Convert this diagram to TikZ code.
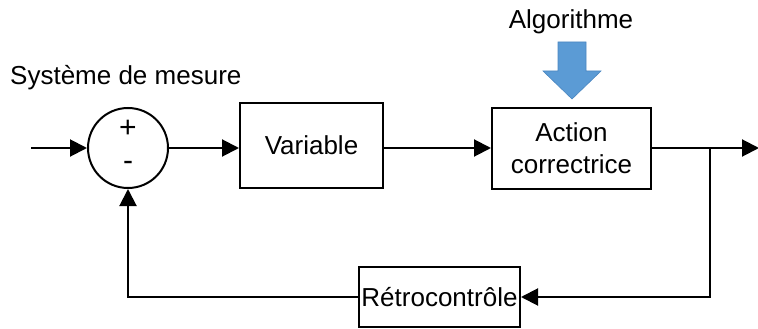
\documentclass[tikz,border=0pt]{standalone}
\usepackage{fontspec}
\setmainfont{Liberation Sans}
\usetikzlibrary{arrows.meta}
\definecolor{algoblue}{HTML}{5B9BD5}
\definecolor{algoedge}{HTML}{4A86C0}
\tikzset{
  blk/.style={draw, line width=2pt, inner sep=0pt, font=\fontsize{26}{30}\selectfont, align=center},
  conn/.style={line width=2pt, -{Triangle[length=17pt,width=17pt]}},
  lbl/.style={inner sep=0pt, font=\fontsize{26}{30}\selectfont},
  sign/.style={inner sep=0pt, font=\fontsize{30}{32}\selectfont}
}
\begin{document}
\begin{tikzpicture}[x=1pt,y=-1pt]
\useasboundingbox (0,0) rectangle (758,329);
% summing junction
\node[draw, circle, line width=2pt, minimum size=80pt, inner sep=0pt] (sum) at (128,148) {};
\node[sign] (plus) at (128,129) {+};
\node[sign] (minus) at (128,166) {-};
% blocks
\node[blk, minimum width=143pt, minimum height=85pt] (var) at (311.5,145.5) {Variable};
\node[blk, minimum width=159pt, minimum height=81pt] (act) at (571.5,148) {Action\\[2pt]correctrice};
\node[blk, minimum width=161pt, minimum height=60pt] (retro) at (439.5,297) {Rétrocontrôle};
% labels
\node[lbl, anchor=west] (mesure) at (10,78) {Système de mesure};
\node[lbl] (algo) at (571,22) {Algorithme};
% blue arrow
\draw[algoedge, fill=algoblue, line width=0.6pt]
  (558,42) -- (586,42) -- (586,71) -- (601,71) -- (572,99) -- (543,71) -- (558,71) -- cycle;
% coordinates
\coordinate (in) at (31,148);
\coordinate (out) at (759,148);
\coordinate (br) at (710,148);
% connectors
\draw[conn] (in) -- (sum.west);
\draw[conn] (sum.east) -- (var.west |- sum.east);
\draw[conn] (var.east |- act.west) -- (act.west);
\draw[conn] (act.east) -- (out);
\draw[conn] (br) |- (retro.east);
\draw[conn] (retro.west) -| (sum.south);
\end{tikzpicture}
\end{document}
